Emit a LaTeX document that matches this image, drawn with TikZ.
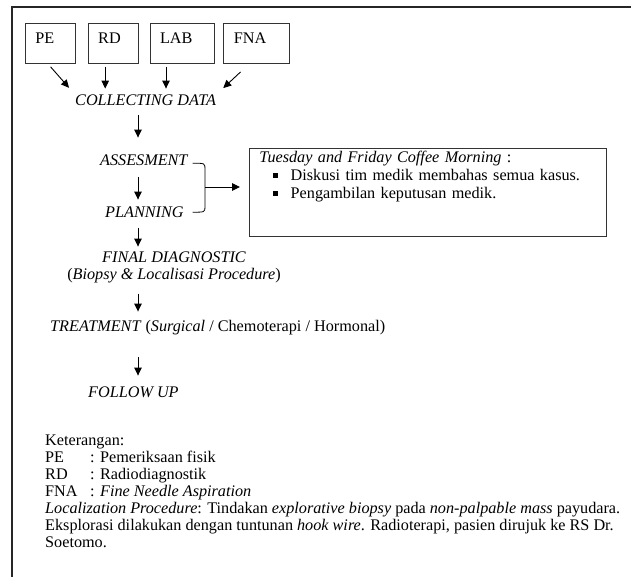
\documentclass[tikz,border=0pt]{standalone}
\usepackage{fontspec}
\setmainfont{Liberation Serif}
\usetikzlibrary{arrows.meta,positioning}
\newcommand{\fsz}{\fontsize{16.2}{17}\selectfont}
\tikzset{%
   src/.style={
      draw=black!80,
      line width=0.8pt,
      inner xsep=10pt,
      inner ysep=9.5pt,
      text height=11pt,
      text depth=10pt,
      align=left,
      anchor=north west
   },
   lbl/.style={
      inner sep=0pt,
      anchor=base west,
      font=\fsz\itshape
   },
   txt/.style={
      inner sep=0pt,
      anchor=base west
   },
   arr/.style={
      -{Triangle[length=8pt,width=7.5pt]},
      line width=0.9pt
   },
   brk/.style={
      line width=0.8pt
   },
   cbox/.style={
      draw=black!80,
      line width=0.8pt,
      inner xsep=10pt,
      inner ysep=3.5pt,
      text height=11pt,
      text depth=70pt,
      text width=337pt,
      align=left,
      anchor=north west,
      font=\fontsize{16.2}{18}\selectfont
   },
}
\newcommand{\sqbul}{\hspace*{14pt}\rule[3pt]{4.8pt}{4.8pt}\hspace{12.5pt}}

\begin{document}
\begin{tikzpicture}[x=1pt, y=-1pt, font=\fsz]
   \useasboundingbox (0,0) rectangle (631,577);
   \draw[line width=1.2pt, black!85] (631,7) -- (12,7) -- (12,577);
   \node[src, text width=30pt] (pe) at (25,23) {PE};
   \node[src, text width=30pt, right=12pt of pe] (rd) {RD};
   \node[src, text width=44pt, right=11pt of rd] (lab) {LAB};
   \node[src, text width=46pt, right=9pt of lab] (fna) {FNA};
   \node[lbl] (cd) at (75,105.5) {COLLECTING DATA};
   \path ([xshift=-2.5pt]pe.south) edge[arr, shorten <=4pt, shorten >=9pt] (cd.north west);
   \path ([xshift=-8pt]rd.south) edge[arr, shorten <=3pt, shorten >=6pt] ([xshift=-8pt]rd.south |- cd.north);
   \path ([xshift=-16pt]lab.south) edge[arr, shorten <=3pt, shorten >=6pt] ([xshift=-16pt]lab.south |- cd.north);
   \path ([xshift=-7.5pt]fna.south) edge[arr, shorten <=12pt, shorten >=9.5pt] (cd.north east);
   \coordinate (ax) at (138,0);
   \node[lbl] (as) at (100,165.5) {ASSESMENT};
   \node[lbl] (pl) at (105,217.5) {PLANNING};
   \node[cbox] (cm) at (249,148) {\textit{Tuesday and Friday Coffee Morning} :\\
      \sqbul Diskusi tim medik membahas semua kasus.\\
      \sqbul Pengambilan keputusan medik.};
   \coordinate (bm) at (205,187);
   \draw[brk] ([xshift=5pt,yshift=-3pt]as.east) .. controls ([yshift=-3pt]as.east -| bm) .. ([yshift=-9pt]as.east -| bm)
      -- ([yshift=6pt]pl.east -| bm) .. controls (pl.east -| bm) .. ([xshift=9pt]pl.east);
   \path (bm) edge[arr, shorten >=9pt] (bm -| cm.west);
   \node[lbl, anchor=base] (fd) at (174,262.5) {FINAL DIAGNOSTIC};
   \node[txt, anchor=base] (fdp) at ([yshift=-16.5pt]fd.base) {(\textit{Biopsy \& Localisasi Procedure})};
   \node[txt] (tr) at (50,331) {\textit{TREATMENT} (\textit{Surgical} / Chemoterapi / Hormonal)};
   \node[lbl] (fu) at (88,397.5) {FOLLOW UP};
   \path (cd.south -| ax) edge[arr, shorten <=9.5pt, shorten >=17pt] (as.north -| ax);
   \path (as.south -| ax) edge[arr, shorten <=11.5pt, shorten >=7pt] (pl.north -| ax);
   \path (pl.south -| ax) edge[arr, shorten <=10.5pt, shorten >=5pt] (fd.north -| ax);
   \path (fdp.south -| ax) edge[arr, shorten <=11pt, shorten >=8pt] (tr.north -| ax);
   \path (tr.south -| ax) edge[arr, shorten <=22.5pt, shorten >=11pt] (fu.north -| ax);
   \node[txt, anchor=north west, align=left] (ket) at (45,435) {Keterangan:\\
      \makebox[45pt][l]{PE}: Pemeriksaan fisik\\
      \makebox[45pt][l]{RD}: Radiodiagnostik\\
      \makebox[45pt][l]{FNA}: \textit{Fine Needle Aspiration}\\
      \textit{Localization Procedure}: Tindakan \textit{explorative biopsy} pada \textit{non-palpable mass} payudara.\\
      Eksplorasi dilakukan dengan tuntunan \textit{hook wire}. Radioterapi, pasien dirujuk ke RS Dr.\\
      Soetomo.};
\end{tikzpicture}
\end{document}
